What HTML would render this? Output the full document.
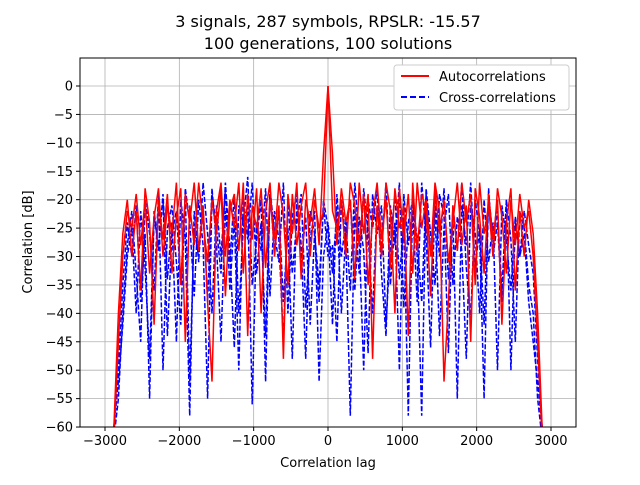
<!DOCTYPE html>
<html><head><meta charset="utf-8"><style>
body{margin:0;background:#fff;font-family:"Liberation Sans","DejaVu Sans",sans-serif}
svg text{font-family:"DejaVu Sans","Liberation Sans",sans-serif}
</style></head><body>
<svg id="chart" width="640" height="480" viewBox="0 0 640 480" xmlns="http://www.w3.org/2000/svg">
<rect width="640" height="480" fill="#fff"/>
<text x="328" y="27" font-size="16" text-anchor="middle">3 signals, 287 symbols, RPSLR: -15.57</text>
<text x="328" y="49" font-size="16" text-anchor="middle">100 generations, 100 solutions</text>
<g id="grid"></g>
<g id="series" clip-path="url(#clip)"></g>
<defs><clipPath id="clip"><rect x="80" y="58" width="496" height="369"/></clipPath></defs>
<rect x="80" y="58" width="496" height="369" fill="none" stroke="#000" stroke-width="1"/>
<g id="ticks"></g>
<text x="328" y="467" font-size="13" text-anchor="middle">Correlation lag</text>
<text transform="translate(32,242) rotate(-90)" font-size="13" text-anchor="middle">Correlation [dB]</text>
<g>
<rect x="394" y="65" width="175" height="45" fill="#fff" stroke="#ccc" rx="3"/>
<line x1="401" y1="76" x2="429" y2="76" stroke="red" stroke-width="2"/>
<text x="439" y="81" font-size="13">Autocorrelations</text>
<line x1="401" y1="97" x2="429" y2="97" stroke="blue" stroke-width="2" stroke-dasharray="6,3"/>
<text x="439" y="102" font-size="13">Cross-correlations</text>
</g>
</svg>
<script>
const xTicks=[-3000,-2000,-1000,0,1000,2000,3000];
const yTicks=[0,-5,-10,-15,-20,-25,-30,-35,-40,-45,-50,-55,-60];
const lagStart=-2880, lagStep=60;
const autoA=[-62,-45,-30,-22,-25,-19,-28,-20,-33,-23,-18,-30,-21,-26,-17,-35,-19,-24,-17,-29,-21,-38,-52,-22,-17,-30,-20,-25,-17,-33,-19,-27,-18,-40,-22,-17,-30,-21,-48,-19,-26,-17,-34,-20,-24,-18,-28,-12,0,-12,-28,-18,-24,-20,-34,-17,-26,-19,-48,-21,-30,-17,-22,-40,-18,-27,-19,-33,-17,-25,-20,-30,-17,-22,-52,-38,-21,-29,-17,-24,-19,-35,-17,-26,-21,-30,-18,-23,-33,-20,-28,-19,-25,-22,-30,-45,-62];
const autoB=[-60,-40,-26,-20,-30,-22,-36,-18,-24,-42,-20,-27,-19,-33,-23,-18,-45,-21,-28,-17,-24,-31,-20,-26,-18,-37,-22,-19,-29,-17,-44,-21,-25,-18,-32,-20,-27,-17,-23,-35,-19,-28,-21,-17,-30,-20,-25,-22,0,-22,-25,-20,-30,-17,-21,-28,-19,-35,-23,-17,-27,-20,-32,-18,-25,-21,-44,-17,-29,-19,-22,-37,-18,-26,-20,-31,-24,-17,-28,-21,-45,-18,-23,-33,-19,-27,-20,-42,-24,-18,-36,-22,-30,-20,-26,-40,-60];
const crossA=[-60,-50,-35,-24,-30,-21,-38,-26,-55,-22,-29,-19,-34,-24,-45,-20,-27,-58,-22,-31,-17,-26,-40,-21,-30,-18,-36,-23,-50,-20,-27,-17,-33,-24,-44,-19,-29,-22,-38,-25,-48,-20,-31,-23,-42,-26,-35,-21,-30,-28,-45,-20,-27,-58,-22,-33,-18,-26,-40,-21,-29,-17,-35,-24,-50,-19,-28,-22,-38,-17,-26,-46,-20,-30,-18,-34,-23,-55,-21,-28,-17,-32,-25,-42,-19,-27,-22,-36,-20,-50,-24,-30,-22,-28,-33,-48,-60];
const crossB=[-62,-55,-40,-28,-22,-33,-45,-20,-26,-36,-19,-50,-25,-21,-31,-42,-18,-24,-37,-20,-28,-55,-19,-25,-33,-17,-29,-46,-21,-24,-16,-35,-27,-20,-52,-18,-26,-31,-17,-40,-23,-19,-28,-48,-22,-26,-38,-20,-25,-42,-19,-30,-24,-36,-17,-27,-50,-20,-25,-18,-33,-44,-21,-28,-17,-39,-24,-20,-30,-58,-18,-26,-35,-19,-23,-47,-21,-29,-17,-32,-41,-20,-26,-55,-18,-30,-24,-38,-20,-27,-45,-22,-25,-35,-40,-55,-62];
const crossC=[-60,-52,-42,-30,-25,-40,-22,-32,-48,-23,-28,-20,-44,-26,-22,-35,-19,-52,-25,-30,-21,-38,-18,-28,-45,-22,-31,-19,-40,-25,-21,-56,-24,-29,-18,-37,-22,-27,-45,-20,-33,-24,-19,-39,-27,-22,-52,-30,-24,-33,-22,-40,-26,-20,-36,-23,-29,-47,-19,-26,-21,-42,-28,-19,-34,-24,-58,-20,-27,-38,-19,-30,-22,-44,-25,-19,-35,-23,-29,-48,-21,-26,-40,-20,-31,-24,-50,-21,-27,-36,-23,-30,-26,-38,-45,-52,-60];
const X0=80,X1=576,Y0=58,Y1=427;
const xs=v=>328+(v/3000)*223;
const ys=v=>86-(v/5)*28.42;
const fmt=v=>v<0?'\u2212'+Math.abs(v):String(v);
const NS="http://www.w3.org/2000/svg";
const grid=document.getElementById('grid'),ticks=document.getElementById('ticks'),ser=document.getElementById('series');
function mk(tag,attrs,parent){const e=document.createElementNS(NS,tag);for(const k in attrs)e.setAttribute(k,attrs[k]);parent.appendChild(e);return e;}
xTicks.forEach(t=>{const x=xs(t);
 const g=mk('line',{x1:x,y1:Y0,x2:x,y2:Y1,stroke:'#b0b0b0','stroke-width':0.8},grid);
 
 
 mk('line',{x1:x,y1:Y1,x2:x,y2:Y1+4,stroke:'#000'},ticks);
 const tx=mk('text',{x:x,y:Y1+18,'font-size':13,'text-anchor':'middle'},ticks);tx.textContent=fmt(t);
 
 });
yTicks.forEach(t=>{const y=ys(t);
 const g=mk('line',{x1:X0,y1:y,x2:X1,y2:y,stroke:'#b0b0b0','stroke-width':0.8},grid);
 
 
 mk('line',{x1:X0-4,y1:y,x2:X0,y2:y,stroke:'#000'},ticks);
 const tx=mk('text',{x:X0-7,y:y+4.5,'font-size':13,'text-anchor':'end'},ticks);tx.textContent=fmt(t);
 
 });
function line(arr,color,dash,name){const pts=arr.map((v,i)=>xs(lagStart+i*lagStep).toFixed(1)+','+ys(v).toFixed(1)).join(' ');
 const p=mk('polyline',{points:pts,fill:'none',stroke:color,'stroke-width':1.5,'stroke-dasharray':dash},ser);
 
 }
line(crossA,'blue','5,2','cross-correlation-1');
line(crossB,'blue','5,2','cross-correlation-2');
line(crossC,'blue','5,2','cross-correlation-3');
line(autoB,'red','none','autocorrelation-2');
line(autoA,'red','none','autocorrelation-1');
</script>
</body></html>
